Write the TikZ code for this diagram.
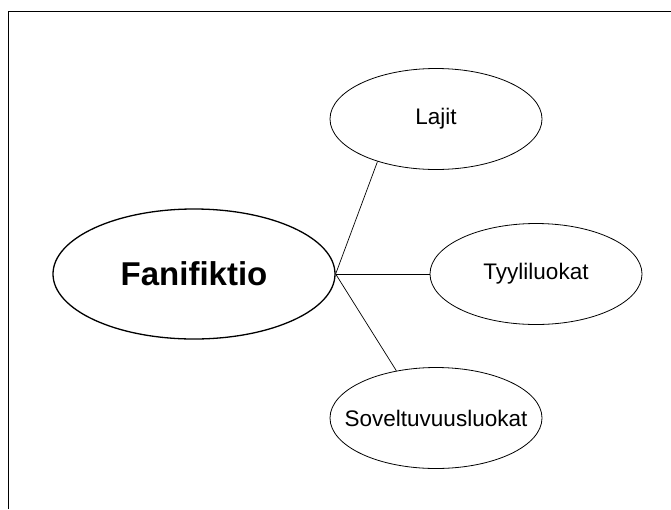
\documentclass[tikz,border=0pt]{standalone}
\usepackage{fontspec}
\setmainfont{Liberation Sans}
\usepackage{tikz}
\usetikzlibrary{shapes.geometric}

% text set in a zero-width box so the ellipse keeps its given size
\newcommand{\ovaltext}[1]{\makebox[0pt]{#1}}

\tikzset{
  topic/.style={draw, ellipse, inner sep=0pt, line width=1.3pt,
    minimum width=282pt, minimum height=130pt, font=\fontsize{33}{36}\selectfont\bfseries},
  subtopic/.style={draw, ellipse, inner sep=0pt, line width=0.8pt,
    minimum width=212pt, minimum height=101pt, font=\fontsize{22.5}{26}\selectfont},
  link/.style={line width=0.7pt}
}

\begin{document}
\begin{tikzpicture}[x=1pt, y=-1pt]
\useasboundingbox (0,0) rectangle (671,509);
\draw[line width=0.9pt] (8,509) -- (8,11) -- (671,11);

\node[topic] (fanifiktio) at (194,274) {\ovaltext{Fanifiktio}};

\node[subtopic] (lajit) at (436,119) {\ovaltext{Lajit}};
\node[subtopic] (tyyliluokat) at (536,274) {\ovaltext{Tyyliluokat}};
\node[subtopic] (soveltuvuus) at (436,418) {\ovaltext{Soveltuvuusluokat}};

\draw[link] (fanifiktio.east) -- (lajit.216);
\draw[link] (fanifiktio.east) -- (tyyliluokat.west);
\draw[link] (fanifiktio.east) -- (soveltuvuus.130);

\end{tikzpicture}
\end{document}
